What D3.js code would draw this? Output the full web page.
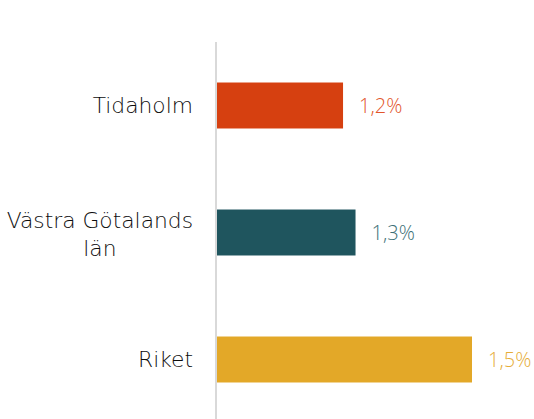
<!DOCTYPE html>
<html>
<head>
<meta charset="utf-8">
<script src="https://cdn.jsdelivr.net/npm/d3@7"></script>
<style>
  html, body { margin: 0; padding: 0; background: #ffffff; }
  svg { display: block; }
</style>
</head>
<body>
<div id="chart"></div>
<script>
// Data
const categories = ["Tidaholm", "Västra Götalands län", "Riket"];
const categoryLines = [["Tidaholm"], ["Västra Götalands", "län"], ["Riket"]];
const values = [1.23, 1.26, 1.54];
const barColors = ["#d64010", "#1f555e", "#e3a828"];
const labelColors = ["#e2552a", "#3d7077", "#e6ad38"];

const width = 534, height = 419;
const valueFont = "'Open Sans', sans-serif";
const catFont = "'DejaVu Sans', sans-serif";

const svg = d3.select("#chart").append("svg")
  .attr("width", width).attr("height", height);

const x = d3.scaleLinear().domain([0.927, 1.54]).range([217, 472]);
const y = d3.scaleBand().domain(categories).range([42, 423])
  .paddingInner(0.638).paddingOuter(0.319);

const fmt = v => d3.format(".1f")(v).replace(".", ",") + "%";

// Bars
svg.selectAll("rect.bar").data(categories).join("rect")
  .attr("class", "bar")
  .attr("x", x(x.domain()[0]))
  .attr("y", d => y(d))
  .attr("width", (d, i) => x(values[i]) - x(x.domain()[0]))
  .attr("height", y.bandwidth())
  .attr("fill", (d, i) => barColors[i]);

// Value labels
svg.selectAll("text.val").data(categories).join("text")
  .attr("class", "val")
  .attr("x", (d, i) => x(values[i]) + 16)
  .attr("y", d => y(d) + y.bandwidth() / 2 + 7)
  .attr("font-family", valueFont)
  .attr("font-weight", 300)
  .attr("font-size", 20)
  .attr("fill", (d, i) => labelColors[i])
  .text((d, i) => fmt(values[i]));

// Axis line (category axis)
svg.append("line")
  .attr("x1", 216).attr("x2", 216)
  .attr("y1", 42).attr("y2", height)
  .attr("stroke", "#d9d9d9").attr("stroke-width", 2);

// Category labels
const catG = svg.selectAll("g.cat").data(categories).join("g").attr("class", "cat");
catG.each(function (d, i) {
  const lines = categoryLines[i];
  const n = lines.length;
  const cy = y(d) + y.bandwidth() / 2;
  const t = d3.select(this).append("text")
    .attr("font-family", catFont)
    .attr("font-weight", 200)
    .attr("font-size", 21.8)
    .attr("fill", "#0d0d0d")
    .attr("text-anchor", "middle");
  lines.forEach((ln, j) => {
    t.append("tspan")
      .attr("y", cy + 7.6 + (j - (n - 1) / 2) * 28.7 + (n > 1 ? 2 : 0))
      .text(ln);
  });
  const w = d3.max(t.selectAll("tspan").nodes(), nd => nd.getComputedTextLength());
  t.selectAll("tspan").attr("x", 193 - w / 2);
});
</script>
</body>
</html>
